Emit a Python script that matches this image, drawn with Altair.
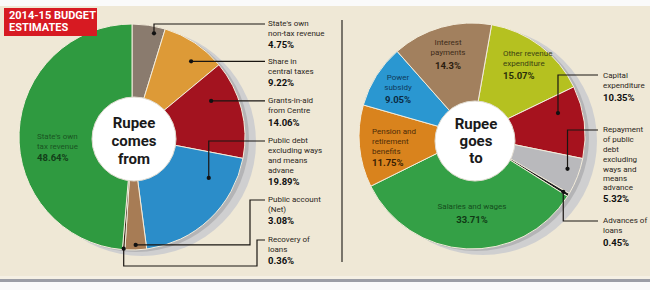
import math
import altair as alt
import pandas as pd

# ---------------- data ----------------
in_cats = ["State's own non-tax revenue", "Share in central taxes", "Grants-in-aid from Centre",
           "Public debt excluding ways and means advane", "Public account (Net)",
           "Recovery of loans", "State's own tax revenue"]
in_vals = [4.75, 9.22, 14.06, 19.89, 3.08, 0.36, 48.64]

out_cats = ["Other revenue expenditure", "Capital expenditure",
            "Repayment of public debt excluding ways and means advance", "Advances of loans",
            "Salaries and wages", "Pension and retirement benefits", "Power subsidy", "Interest payments"]
out_vals = [15.07, 10.35, 5.32, 0.45, 33.71, 11.75, 9.05, 14.3]

# ---------------- styles / layout ----------------
in_colors = ["#8a7b6e", "#dd9a37", "#a3131f", "#2b8dc9", "#a77c55", "#3a2a1c", "#2f9a40"]
out_colors = ["#b5c120", "#a6121e", "#b9b9bc", "#1e1e1e", "#34a046", "#d9831d", "#2a97d1", "#a2805e"]

W, H = 650, 290
BG = "#efe8d6"
FONT = "Roboto"

L_CX, L_CY, R_CX, R_CY, RAD = 132, 137, 472, 136, 113
L_START, R_START = 0.0, 10.0


def pie(cats, vals, colors, cx, cy, start_deg):
    df = pd.DataFrame({"cat": cats, "val": vals, "col": colors, "i": list(range(len(cats)))})
    t0 = math.radians(start_deg)
    return alt.Chart(df).mark_arc(stroke="#f3ecdb", strokeWidth=1).encode(
        theta=alt.Theta("val:Q", stack=True,
                        scale=alt.Scale(domain=[0, sum(vals)], range=[t0, t0 + 2 * math.pi])),
        color=alt.Color("col:N", scale=None),
        order=alt.Order("i:Q"),
        x=alt.value(cx), y=alt.value(cy), radius=alt.value(RAD),
    )


def disc(cx, cy, r, color, stroke=None):
    kw = {"fill": color}
    if stroke:
        kw.update(stroke=stroke, strokeWidth=1)
    return alt.Chart(pd.DataFrame({"a": [0]})).mark_arc(**kw).encode(
        theta=alt.value(0), theta2=alt.value(2 * math.pi),
        x=alt.value(cx), y=alt.value(cy), radius=alt.value(r))


def slice_point(vals, start_deg, k, frac, r, cx, cy):
    tot = sum(vals)
    a = start_deg + 360 * sum(vals[:k]) / tot + frac * 360 * vals[k] / tot
    rad = math.radians(a)
    return cx + r * math.sin(rad), cy - r * math.cos(rad)


leaders = []
dots = []


def add_leader(name, vals, start, k, frac, r, cx, cy, path):
    x0, y0 = slice_point(vals, start, k, frac, r, cx, cy)
    dots.append({"x": x0, "y": y0})
    pts = [(x0, y0)]
    for p in path:
        px = x0 if p[0] is None else p[0]
        py = y0 if p[1] is None else p[1]
        pts.append((px, py))
    for j, (px, py) in enumerate(pts):
        leaders.append({"id": name, "k": j, "x": px, "y": py})


add_leader("a", in_vals, L_START, 0, 0.7, 106, L_CX, L_CY, [(None, 24), (265, 24)])
add_leader("b", in_vals, L_START, 1, 0.63, 96, L_CX, L_CY, [(265, None)])
add_leader("c", in_vals, L_START, 2, 0.3, 87, L_CX, L_CY, [(265, None)])
add_leader("d", in_vals, L_START, 3, 0.24, 87, L_CX, L_CY, [(None, 141), (265, 141)])
add_leader("e", in_vals, L_START, 4, 0.5, 108, L_CX, L_CY, [(250, None), (250, 200), (265, 200)])
add_leader("f", in_vals, L_START, 5, 0.5, 112, L_CX, L_CY, [(None, 266), (257, 266), (257, 240), (265, 240)])
add_leader("g", out_vals, R_START, 1, 0.29, 89, R_CX, R_CY, [(None, 75), (598, 75)])
add_leader("h", out_vals, R_START, 2, 0.39, 101, R_CX, R_CY, [(None, 130), (598, 130)])
add_leader("i", out_vals, R_START, 3, 0.5, 107, R_CX, R_CY, [(None, 221), (598, 221)])

texts_normal = []
texts_bold = []


def block(lines, x, ys, align, color, bold_color=None):
    for j, (t, y) in enumerate(zip(lines, ys)):
        last = j == len(lines) - 1
        row = {"t": t, "x": x, "y": y, "c": (bold_color or color) if last else color, "al": align}
        (texts_bold if last else texts_normal).append(row)


EXT, EXTB = "#2b2620", "#111111"
block(["State's own", "non-tax revenue", "4.75%"], 268, [24, 34, 45], "left", EXT, EXTB)
block(["Share in", "central taxes", "9.22%"], 268, [62, 72, 83], "left", EXT, EXTB)
block(["Grants-in-aid", "from Centre", "14.06%"], 268, [101, 111, 123], "left", EXT, EXTB)
block(["Public debt", "excluding ways", "and means", "advane", "19.89%"], 268,
      [141, 151, 161, 171, 182], "left", EXT, EXTB)
block(["Public account", "(Net)", "3.08%"], 268, [200, 210, 221], "left", EXT, EXTB)
block(["Recovery of", "loans", "0.36%"], 268, [240, 250, 261], "left", EXT, EXTB)

block(["Capital", "expenditure", "10.35%"], 603, [76, 86, 98], "left", EXT, EXTB)
block(["Repayment", "of public", "debt", "excluding", "ways and", "means", "advance", "5.32%"], 603,
      [130, 140, 150, 160, 170, 179, 188, 199], "left", EXT, EXTB)
block(["Advances of", "loans", "0.45%"], 603, [221, 231, 243], "left", EXT, EXTB)

block(["State's own", "tax revenue", "48.64%"], 37, [137, 147, 158], "left", "#1a5522", "#133f19")
block(["Interest", "payments", "14.3%"], 448, [43, 53, 66], "center", "#3e2b19", "#2c1d0f")
block(["Power", "subsidy", "9.05%"], 398, [78, 88, 100], "center", "#0f3b5c", "#0a2b44")
block(["Other revenue", "expenditure", "15.07%"], 503, [54, 64, 76], "left", "#3b4212", "#2a300a")
block(["Pension and", "retirement", "benefits", "11.75%"], 372, [132, 142, 152, 163], "left",
      "#4d2b08", "#3a1f04")
block(["Salaries and wages", "33.71%"], 472, [207, 220], "center", "#154d1d", "#103a15")


def text_layer(rows, align, bold, size):
    rows = [r for r in rows if r["al"] == align]
    return alt.Chart(pd.DataFrame(rows)).mark_text(
        align=align, baseline="middle", font=FONT, fontSize=size,
        fontWeight="bold" if bold else "normal").encode(
        x=alt.X("x:Q", scale=None), y=alt.Y("y:Q", scale=None),
        text="t:N", color=alt.Color("c:N", scale=None))


def rect(x1, x2, y1, y2, color):
    return alt.Chart(pd.DataFrame({"a": [0]})).mark_rect(color=color).encode(
        x=alt.value(x1), x2=alt.value(x2), y=alt.value(y1), y2=alt.value(y2))


layers = [
    rect(0, W, 6, 276, BG),
    rect(0, W, 276, 279, "#f5f0e4"),
    rect(0, W, 279, 282, "#9c9ea6"),
    alt.Chart(pd.DataFrame({"a": [0]})).mark_rule(color="#3a3630", strokeWidth=1.3).encode(
        x=alt.value(342), y=alt.value(20), y2=alt.value(262)),
    # shadows
    disc(L_CX + 10, L_CY + 5, RAD + 1, "#cfcfd0"),
    disc(L_CX + 4, L_CY + 2, RAD, "#b4b4b6"),
    disc(R_CX + 11, R_CY + 5, RAD + 1, "#cfcfd0"),
    disc(R_CX + 4, R_CY + 2, RAD, "#b4b4b6"),
    pie(in_cats, in_vals, in_colors, L_CX, L_CY, L_START),
    pie(out_cats, out_vals, out_colors, R_CX, R_CY, R_START),
    disc(L_CX + 2, L_CY + 2, 42, "#ffffff", "#e2ddd2"),
    disc(R_CX + 3, R_CY + 5, 40, "#ffffff", "#e2ddd2"),
    alt.Chart(pd.DataFrame(leaders)).mark_line(color="#1a1612", strokeWidth=1.2).encode(
        x=alt.X("x:Q", scale=None), y=alt.Y("y:Q", scale=None),
        detail="id:N", order="k:Q"),
    alt.Chart(pd.DataFrame(dots)).mark_circle(color="#111111", size=18, opacity=1).encode(
        x=alt.X("x:Q", scale=None), y=alt.Y("y:Q", scale=None)),
    text_layer(texts_normal, "left", False, 8),
    text_layer(texts_normal, "center", False, 8),
    text_layer(texts_bold, "left", True, 9.5),
    text_layer(texts_bold, "center", True, 9.5),
    # centre texts
    alt.Chart(pd.DataFrame({"t": ["Rupee", "comes", "from", "Rupee", "goes", "to"],
                            "x": [L_CX + 2] * 3 + [R_CX + 4] * 3,
                            "y": [123, 141, 159, 124, 141, 158]})).mark_text(
        align="center", baseline="middle", font=FONT, fontSize=15, fontWeight="bold",
        color="#1a1a1a").encode(x=alt.X("x:Q", scale=None), y=alt.Y("y:Q", scale=None), text="t:N"),
    # title box
    rect(4, 97, 8, 36, "#d71a22"),
    alt.Chart(pd.DataFrame({"t": ["2014-15 BUDGET", "ESTIMATES"], "x": [9, 9], "y": [16, 28]})).mark_text(
        align="left", baseline="middle", font=FONT, fontSize=11, fontWeight="bold",
        color="#ffffff").encode(x=alt.X("x:Q", scale=None), y=alt.Y("y:Q", scale=None), text="t:N"),
]

chart = alt.layer(*layers).resolve_scale(theta="independent").properties(
    width=W, height=H, padding=0, autosize=alt.AutoSizeParams(type="none"),
    background="#fafafa",
).configure_view(stroke=None)

chart.save("out.html", embed_options={"renderer": "svg", "actions": False})
